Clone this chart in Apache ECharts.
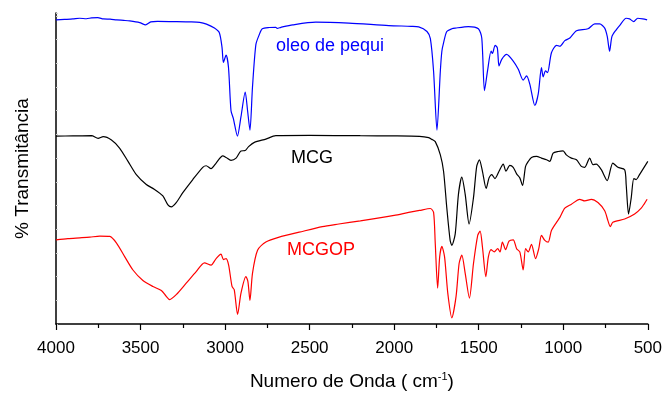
<!DOCTYPE html>
<html>
<head>
<meta charset="utf-8">
<script src="https://cdn.jsdelivr.net/npm/echarts@6/dist/echarts.min.js"></script>
<style>
  html, body { margin: 0; padding: 0; background: #fff; }
  #chart { width: 665px; height: 396px; }
</style>
</head>
<body>
<div id="chart"></div>
<script>
// FTIR spectra (stacked, arbitrary vertical offsets), wavenumber in cm-1
const oleoWn = [4000,3950,3900,3860,3820,3790,3753,3720,3680,3641,3600,3564,3505,3470,3440,3400,3310,3200,3150,3110,3063,3034,3018,3010,2994,2980,2965,2951,2927,2906,2881,2867,2853,2838,2818,2798,2780,2739,2700,2692,2670,2600,2464,2268,2032,1900,1855,1806,1786,1767,1747,1727,1718,1708,1689,1659,1639,1561,1502,1482,1466,1448,1427,1419,1403,1390,1380,1364,1335,1296,1266,1237,1217,1198,1168,1148,1129,1119,1105,1093,1070,1040,1020,991,961,922,854,814,785,755,740,726,712,687,667,628,608,583,560,530,504];
const oleoT = [308,308.5,309,309.7,309.2,310,310.3,309,308.7,308,307.5,307,305.3,303,306,306.5,306.3,306,305.5,303.7,299.7,295,280,265,272.3,260,216,208,190.3,210,235,216,196.3,240,283,293,299,300.3,300.5,299.5,300.5,303,305.7,304.7,302.3,301.5,301,296.3,289,256,196.3,256.3,276.3,284.7,296.3,299,299.7,301.3,299,289.7,236.3,256.3,276.3,274,282.3,279.7,261.3,268,273,266.3,258,247,251.3,243,221.3,233,259.7,250.3,256.3,254.7,274.7,282.3,281.3,287,289.7,297,299,304,304,299.7,291.3,276.3,291.3,298,302.3,309.7,309,306.3,309.7,309,308];

const mcgWn = [4000,3900,3790,3751,3721,3672,3623,3574,3525,3466,3417,3368,3338,3318,3289,3250,3191,3132,3112,3083,3053,3014,2994,2965,2935,2906,2881,2861,2827,2759,2700,2500,2200,2000,1850,1796,1777,1757,1727,1708,1689,1669,1659,1639,1620,1600,1580,1557,1531,1512,1496,1478,1456,1439,1423,1404,1380,1355,1339,1316,1296,1276,1257,1241,1223,1207,1188,1158,1129,1099,1080,1060,1030,1001,982,952,922,893,873,844,824,805,775,740,707,677,637,628,614,598,583,569,549,500];
const mcgT = [190.3,190.5,190.7,188,189.7,186.3,178,164.7,151.3,141.3,136.3,129.7,120.7,118.7,123,133,146.3,158.7,160.3,157.3,163,170.3,168.7,165.7,168,175.3,175.7,179.7,184,187.3,190.7,191,190.7,190.5,190,188.7,187,184.7,171.3,154.7,118,84.7,79.7,91.3,131.3,148.7,131.3,101.3,128,159.7,166.3,154.7,137.3,148,151.3,147.3,154.7,162,154.7,160.7,158.7,152,148,140.3,159.7,164.7,168.7,169.7,168,166.3,164.7,173,174.7,175.3,171.3,168,166.3,159.7,158.7,168,161.3,162,156.3,145.3,163,158.7,156.3,141.3,111.3,128,147.3,146.3,151.3,164.7];

const mcgopWn = [4000,3930,3859,3800,3741,3682,3642,3593,3545,3486,3427,3377,3348,3328,3289,3230,3171,3122,3083,3053,3024,3010,2994,2979,2959,2946,2926,2906,2877,2865,2853,2838,2808,2759,2680,2562,2425,2327,2200,2000,1914,1850,1786,1767,1757,1743,1731,1718,1702,1683,1659,1634,1616,1600,1580,1555,1531,1506,1492,1478,1458,1443,1427,1408,1388,1374,1360,1341,1321,1296,1276,1257,1237,1223,1207,1188,1164,1145,1129,1109,1089,1070,1040,1020,991,952,903,873,834,795,755,736,722,707,637,578,539,520,504];
const mcgopT = [85.3,86.5,87.3,88,89,88.7,82,68,54.7,44,38,34,28,24.7,29.7,41.3,53,62,59.7,66.3,70.7,65.3,66.3,59.7,38,34.7,9.7,31.3,48,43,24,51.3,74.7,83,88,93,98.7,101.3,104.5,110,113,115,117,113,81.3,36.3,68,78.7,68,31.3,6.3,28,61.3,69.7,51.3,26.3,61.3,89.7,94,78,48,68,75.3,73,76.3,73,83,75.3,84,85.3,76.3,73,54.7,76.3,73,80.7,66.3,76.3,89.7,84.7,83,94.7,103,108,117.3,121.3,126.3,124.7,126.3,123,114.7,104.7,98.7,103,106.3,111.3,117.3,122,126.3];

const xTicks = [4000, 3500, 3000, 2500, 2000, 1500, 1000, 500];

const zip = (xs, ys) => xs.map((x, i) => [x, ys[i]]);
const FONT = 'Arial, "Liberation Sans", sans-serif';

const chart = echarts.init(document.getElementById('chart'), null, { renderer: 'canvas' });

function spectrum(name, color, xs, ys) {
  return {
    name: name,
    type: 'line',
    data: zip(xs, ys),
    showSymbol: false,
    smooth: 0.25,
    lineStyle: { color: color, width: 1.2 },
    animation: false
  };
}

chart.setOption({
  backgroundColor: '#ffffff',
  animation: false,
  grid: { left: 56, right: 15, top: 13, bottom: 68 },
  xAxis: {
    type: 'value',
    min: 500,
    max: 4000,
    interval: 500,
    inverse: true,
    name: 'Numero de Onda ( cm{sup|-1})',
    nameLocation: 'middle',
    nameGap: 47,
    nameTextStyle: {
      fontFamily: FONT, fontSize: 19, color: '#000',
      rich: { sup: { fontFamily: FONT, fontSize: 11, color: '#000', verticalAlign: 'top', padding: [0, 0, 10, 0] } }
    },
    axisLine: { lineStyle: { color: '#000', width: 1.5 } },
    axisTick: { show: true, length: 6, lineStyle: { color: '#000', width: 1.2 },
      customValues: xTicks },
    minorTick: { show: true, splitNumber: 2, length: 4, lineStyle: { color: '#000', width: 1.2 } },
    axisLabel: { fontFamily: FONT, fontSize: 17, color: '#000', margin: 16, customValues: xTicks,
      formatter: v => String(v) },
    splitLine: { show: false }
  },
  yAxis: {
    type: 'value',
    min: 0,
    max: 315,
    interval: 24,
    name: '% Transmitância',
    nameLocation: 'middle',
    nameGap: 24,
    nameTextStyle: { fontFamily: FONT, fontSize: 19, color: '#000' },
    axisLine: { show: true, lineStyle: { color: '#000', width: 1.5 } },
    axisTick: { show: true, inside: true, length: 2, lineStyle: { color: '#d0d0d0', width: 1 } },
    axisLabel: { show: false },
    splitLine: { show: false }
  },
  series: [
    spectrum('oleo de pequi', '#0000ff', oleoWn, oleoT),
    spectrum('MCG', '#000000', mcgWn, mcgT),
    spectrum('MCGOP', '#ff0000', mcgopWn, mcgopT)
  ],
  graphic: [
    { type: 'text', left: 276, top: 37, style: { text: 'oleo de pequi', fill: '#0000ff', font: '18px ' + FONT } },
    { type: 'text', left: 291, top: 149, style: { text: 'MCG', fill: '#000000', font: '18px ' + FONT } },
    { type: 'text', left: 287, top: 241, style: { text: 'MCGOP', fill: '#ff0000', font: '18px ' + FONT } }
  ]
});
</script>
</body>
</html>
